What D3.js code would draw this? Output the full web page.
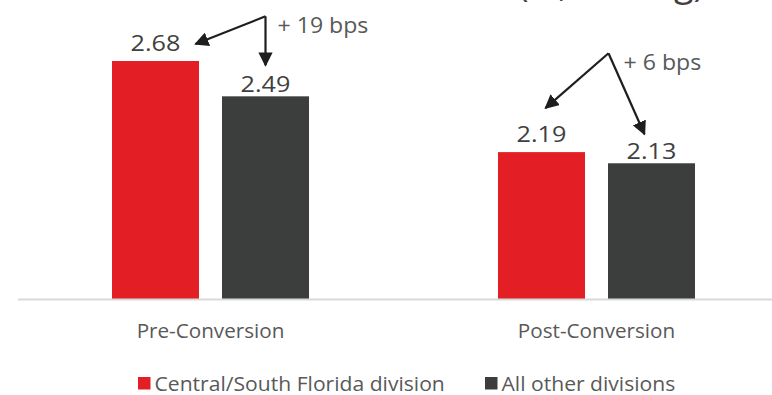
<!DOCTYPE html>
<html>
<head>
<meta charset="utf-8">
<script src="https://cdn.jsdelivr.net/npm/d3@7"></script>
<style>
  html, body { margin: 0; padding: 0; background: #fff; }
  svg { display: block; }
  text { font-family: "Open Sans", Lato, sans-serif; }
</style>
</head>
<body>
<svg id="chart" width="772" height="395"></svg>
<script>
// Rate comparison before and after conversion, by division
const periods = ["Pre-Conversion", "Post-Conversion"];
const seriesNames = ["Central/South Florida division", "All other divisions"];
const centralSouth = [2.68, 2.19];
const allOther = [2.49, 2.13];
const spreadLabels = ["+ 19 bps", "+ 6 bps"];
const titleTail = "(%, trailing)";

const colors = ["#e31e24", "#3c3e3e"];
const W = 772, H = 395;
const svg = d3.select("#chart");

const baseY = 299;
const x0 = d3.scaleBand().domain(periods).range([17.5, 789.5]);
const x1 = d3.scaleBand().domain(seriesNames).range([0, x0.bandwidth()])
  .paddingInner(0.209).paddingOuter(0.859);
const y = d3.scaleLinear().domain([1.4, 2.68]).range([baseY, 61]);

const rows = periods.map((p, i) => ({
  period: p,
  values: [
    { name: seriesNames[0], value: centralSouth[i], s: 0 },
    { name: seriesNames[1], value: allOther[i], s: 1 }
  ]
}));

// slightly wide lettering: place at (x, y) and stretch horizontally
const place = (x, yy, sx) => `translate(${x},${yy}) scale(${sx},1)`;

// title line, mostly above the visible area
svg.append("text")
  .attr("x", 518).attr("y", -4)
  .attr("font-size", 36)
  .attr("fill", "#404040")
  .text(titleTail);

// bars
const groups = svg.selectAll("g.period").data(rows).join("g")
  .attr("class", "period")
  .attr("transform", d => `translate(${x0(d.period)},0)`);

groups.selectAll("rect").data(d => d.values).join("rect")
  .attr("x", d => x1(d.name))
  .attr("y", d => y(d.value))
  .attr("width", x1.bandwidth())
  .attr("height", d => baseY - y(d.value))
  .attr("fill", d => colors[d.s]);

// value labels (red labels sit a little higher to clear the arrows)
const labelGap = [17.5, 11.8];
groups.selectAll("text.val").data(d => d.values).join("text")
  .attr("class", "val")
  .attr("transform", d => place(x1(d.name) + x1.bandwidth() / 2, y(d.value) - labelGap[d.s], 1.2))
  .attr("dy", "0.36em")
  .attr("text-anchor", "middle")
  .attr("font-size", 21)
  .attr("fill", "#404040")
  .text(d => d.value.toFixed(2));

// baseline
svg.append("line")
  .attr("x1", 18).attr("x2", W)
  .attr("y1", baseY + 0.5).attr("y2", baseY + 0.5)
  .attr("stroke", "#d9d9d9").attr("stroke-width", 2);

// category labels
svg.selectAll("text.cat").data(periods).join("text")
  .attr("class", "cat")
  .attr("transform", d => place(x0(d) + x0.bandwidth() / 2, 331, 1.06))
  .attr("dy", "0.36em")
  .attr("text-anchor", "middle")
  .attr("font-size", 19.5)
  .attr("fill", "#595959")
  .text(d => d);

// spread annotations: arrows from a common apex to each value label
const defs = svg.append("defs");
defs.append("marker")
  .attr("id", "head")
  .attr("viewBox", "0 0 10 10")
  .attr("refX", 9).attr("refY", 5)
  .attr("markerWidth", 6.5).attr("markerHeight", 6.5)
  .attr("markerUnits", "strokeWidth")
  .attr("orient", "auto")
  .append("path").attr("d", "M0,0 L10,5 L0,10 z").attr("fill", "#1e1e1e");

const annos = [
  { apexDx: 0, apexDy: -80, leftDx: 40, leftDy: -17, rightDx: 0, rightDy: -31, tx: 12 },
  { apexDx: -43, apexDy: -110, leftDx: 4, leftDy: -44, rightDx: -7, rightDy: -29, tx: 15 }
];

rows.forEach((r, i) => {
  const gx = x0(r.period);
  const aCx = gx + x1(seriesNames[0]) + x1.bandwidth() / 2;
  const bCx = gx + x1(seriesNames[1]) + x1.bandwidth() / 2;
  const aTop = y(r.values[0].value);
  const bTop = y(r.values[1].value);
  const a = annos[i];
  const apex = [bCx + a.apexDx, bTop + a.apexDy];
  const leftTip = [aCx + a.leftDx, aTop + a.leftDy];
  const rightTip = [bCx + a.rightDx, bTop + a.rightDy];
  [leftTip, rightTip].forEach(t => {
    svg.append("line")
      .attr("x1", apex[0]).attr("y1", apex[1])
      .attr("x2", t[0]).attr("y2", t[1])
      .attr("stroke", "#1e1e1e").attr("stroke-width", 2.2)
      .attr("marker-end", "url(#head)");
  });
  svg.append("text")
    .attr("transform", place(apex[0] + a.tx, apex[1] + 9, 1.1))
    .attr("dy", "0.36em")
    .attr("font-size", 21)
    .attr("fill", "#595959")
    .text(spreadLabels[i]);
});

// legend
const legend = svg.append("g").attr("transform", "translate(138,377)");
const items = legend.selectAll("g").data(seriesNames).join("g")
  .attr("transform", (d, i) => `translate(${i ? 347 : 0},0)`);
items.append("rect").attr("width", 12.5).attr("height", 12.5)
  .attr("fill", (d, i) => colors[i]);
items.append("text")
  .attr("transform", place(16.5, 6.5, 1.03))
  .attr("dy", "0.36em")
  .attr("font-size", 20.5)
  .attr("fill", "#595959")
  .text(d => d);
</script>
</body>
</html>
